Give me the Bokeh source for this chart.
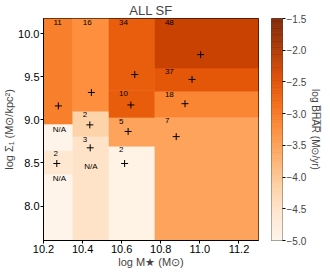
import numpy as np
from bokeh.plotting import figure
from bokeh.models import (LinearColorMapper, ColumnDataSource, FixedTicker,
                          PrintfTickFormatter, CustomJSTickFormatter)
from bokeh.layouts import row
from bokeh.transform import transform
from bokeh.palettes import Oranges256
from bokeh.embed import file_html
from bokeh.resources import INLINE

# ---------------- data ----------------
cell_left   = [10.2, 10.2, 10.2, 10.2, 10.35, 10.35, 10.35, 10.535, 10.535, 10.535, 10.535, 10.77, 10.77, 10.77, 10.77]
cell_right  = [10.35, 10.35, 10.35, 10.35, 10.535, 10.535, 10.535, 10.77, 10.77, 10.77, 10.77, 11.3, 11.3, 11.3, 11.3]
cell_bottom = [7.6, 8.37, 8.648, 8.95, 7.6, 8.807, 9.10, 7.6, 8.693, 9.026, 9.34, 7.6, 9.03, 9.33, 9.60]
cell_top    = [8.37, 8.648, 8.95, 10.175, 8.807, 9.10, 10.175, 8.693, 9.026, 9.34, 10.175, 9.03, 9.33, 9.60, 10.175]
cell_bhar   = [np.nan, -4.62, np.nan, -3.08, -4.50, -4.18, -3.27, -4.93, -3.55, -2.65, -2.67, -3.54, -3.15, -2.58, -2.25]
cell_count  = ["", "2", "", "11", "3", "2", "16", "2", "5", "10", "34", "7", "18", "37", "48"]

mean_mass  = [10.276, 10.268, 10.445, 10.437, 10.439, 10.667, 10.647, 10.633, 10.615, 11.004, 10.960, 10.924, 10.879]
mean_sigma = [9.161, 8.493, 9.317, 8.941, 8.675, 9.525, 9.172, 8.865, 8.493, 9.756, 9.468, 9.187, 8.805]

na_mass  = [10.281, 10.281, 10.442]
na_sigma = [8.891, 8.322, 8.455]

x_ticks = [10.2, 10.4, 10.6, 10.8, 11.0, 11.2]
y_ticks = [8.0, 8.5, 9.0, 9.5, 10.0]
cb_ticks = [-5.0, -4.5, -4.0, -3.5, -3.0, -2.5, -2.0, -1.5]
cb_low, cb_high = -5.0, -1.5

FONT = "Liberation Sans"
palette = list(reversed(Oranges256))
mapper = LinearColorMapper(palette=palette, low=cb_low, high=cb_high, nan_color="#fff4ea")

TOP, FH, BOT = 18, 222, 30

# ---------------- main figure ----------------
p = figure(frame_width=215, frame_height=FH, x_range=(10.2, 11.3), y_range=(7.6, 10.175),
           output_backend="svg", toolbar_location=None,
           min_border_left=38, min_border_right=13, min_border_top=TOP, min_border_bottom=BOT,
           title="ALL SF")
p.title.text_font = FONT
p.title.text_font_size = "13px"
p.title.text_font_style = "normal"
p.title.align = "center"
p.title.standoff = 1
p.grid.visible = False
p.outline_line_color = "black"
p.background_fill_color = "white"

src = ColumnDataSource(dict(left=cell_left, right=cell_right, bottom=cell_bottom, top=cell_top,
                            v=cell_bhar, n=cell_count))
p.quad(left="left", right="right", bottom="bottom", top="top", source=src,
       fill_color=transform("v", mapper), line_color=transform("v", mapper), line_width=0.5)
p.text(x="left", y="top", text="n", source=src, x_offset=10, y_offset=1,
       text_align="left", text_baseline="top", text_font_size="8px",
       text_font={"value": FONT}, text_color="black")
p.text(x=na_mass, y=na_sigma, text=["N/A"] * len(na_mass), text_align="center",
       text_baseline="middle", text_font_size="8px", text_font={"value": FONT}, text_color="black")
p.scatter(x=mean_mass, y=mean_sigma, marker="cross", size=7, line_color="black", line_width=1)

for ax in (p.xaxis[0], p.yaxis[0]):
    ax.major_tick_in = 0
    ax.major_tick_out = 3
    ax.minor_tick_line_color = None
    ax.major_label_standoff = 1
    ax.axis_label_standoff = 0
    ax.major_label_text_font = FONT
    ax.major_label_text_font_size = "11px"
    ax.axis_label_text_font = FONT
    ax.axis_label_text_font_size = "11px"
    ax.axis_label_text_font_style = "normal"
    ax.major_label_text_color = "black"
    ax.axis_line_color = "black"
    ax.formatter = PrintfTickFormatter(format="%.1f")
p.xaxis.ticker = FixedTicker(ticks=x_ticks)
p.yaxis.ticker = FixedTicker(ticks=y_ticks)
p.xaxis.axis_label = "log M\u2605 (M\u2299)"
p.yaxis.axis_label = "log \u03a3\u2081 (M\u2299/kpc\u00b2)"

# ---------------- colour bar figure ----------------
edges = np.linspace(cb_low, cb_high, 257)
cb_src = ColumnDataSource(dict(bottom=edges[:-1], top=edges[1:], v=(edges[:-1] + edges[1:]) / 2))
c = figure(frame_width=11, frame_height=FH, x_range=(0, 1), y_range=(cb_low, cb_high),
           output_backend="svg", toolbar_location=None, y_axis_location="right",
           min_border_left=0, min_border_right=36, min_border_top=TOP, min_border_bottom=BOT,
           title=" ")
c.title.text_font = FONT
c.title.text_font_size = "13px"
c.title.text_font_style = "normal"
c.title.standoff = 1
c.grid.visible = False
c.xaxis.visible = False
c.outline_line_color = "#555555"
c.quad(left=0, right=1, bottom="bottom", top="top", source=cb_src,
       fill_color=transform("v", mapper), line_color=transform("v", mapper), line_width=0.5)

cy = c.yaxis[0]
cy.ticker = FixedTicker(ticks=cb_ticks)
cy.formatter = CustomJSTickFormatter(code="return tick.toFixed(1).replace('-', '\u2212');")
cy.major_tick_in = 0
cy.major_tick_out = 3
cy.minor_tick_line_color = None
cy.major_label_standoff = 1
cy.axis_label_standoff = 1
cy.major_label_text_font = FONT
cy.major_label_text_font_size = "10px"
cy.axis_label_text_font = FONT
cy.axis_label_text_font_size = "10px"
cy.axis_label_text_font_style = "normal"
cy.axis_line_color = None
cy.axis_label = "log B\u0305H\u0305A\u0305R\u0305 (M\u2299/yr)"

layout = row(p, c)
open("out.html", "w").write(file_html(layout, INLINE))
